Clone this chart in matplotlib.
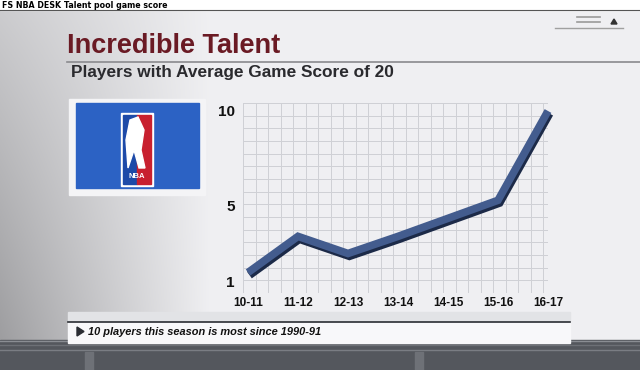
import numpy as np
import matplotlib
matplotlib.use('Agg')
import matplotlib.pyplot as plt
import matplotlib.transforms as mtransforms
from matplotlib.patches import Rectangle, Polygon

seasons = ['10-11', '11-12', '12-13', '13-14', '14-15', '15-16', '16-17']
players = [1.5, 3.4, 2.5, 3.4, 4.35, 5.3, 10]
ytick_values = [1, 5, 10]

header = 'FS NBA DESK Talent pool game score'
title = 'Incredible Talent'
subtitle = 'Players with Average Game Score of 20'
footnote = '10 players this season is most since 1990-91'

sans = ['Liberation Sans', 'DejaVu Sans']

W, H = 640, 370
fig = plt.figure(figsize=(6.4, 3.7), dpi=100)

# background layer in pixel coordinates
bg = fig.add_axes([0, 0, 1, 1])
bg.set_xlim(0, W)
bg.set_ylim(H, 0)
bg.axis('off')

xx, yy = np.meshgrid(np.arange(W), np.arange(H))
shade = 0.94 - 0.30 * np.clip((210 - xx) / 210, 0, 1) * (0.45 + 0.55 * yy / 300)
shade = np.clip(shade, 0, 1)
img = np.dstack([shade, shade, shade + 0.01])
bg.imshow(np.clip(img, 0, 1), extent=(0, W, H, 0), aspect='auto', zorder=0)

# header strip
bg.add_patch(Rectangle((0, 0), W, 10, color='white', zorder=1))
bg.plot([0, W], [10, 10], color='#555555', lw=0.8, zorder=2)
bg.text(2, 5, header, fontsize=5.7, fontweight='bold', color='black',
        family=['DejaVu Sans'], va='center', ha='left', zorder=3)

# top right decorations
bg.plot([577, 600], [17, 17], color='#9a9a9a', lw=1.2)
bg.plot([577, 600], [22, 22], color='#9a9a9a', lw=1.2)
bg.plot([555, 623], [28, 28], color='#a0a0a0', lw=1.0)
bg.add_patch(Polygon([[611, 24], [614, 19], [617, 24]], color='#333333'))

# title block
bg.text(67, 46, title, fontsize=19.5, fontweight='bold', color='#6a1a24',
        family=sans, va='center', ha='left')
bg.plot([67, W], [62, 62], color='#8a8a8e', lw=1.2)
bg.text(71, 72, subtitle, fontsize=12.4, fontweight='bold', color='#2a2a2e',
        family=sans, va='center', ha='left')

# NBA logo box
bg.add_patch(Rectangle((69, 99), 136, 96, color='#f4f4f6', zorder=2))
bg.add_patch(Rectangle((76, 103), 123, 85, color='#2c62c4', zorder=3))
bg.add_patch(Rectangle((121, 113), 32, 73, color='white', zorder=4))
bg.add_patch(Rectangle((123, 115), 14, 69, color='#1d4aa8', zorder=5))
bg.add_patch(Rectangle((137, 115), 14, 69, color='#c8202f', zorder=5))
bg.text(137, 176, 'NBA', fontsize=5.5, fontweight='bold', color='white',
        family=sans, ha='center', va='center', zorder=6)
bg.add_patch(Polygon([[130, 120], [138, 117], [144, 130], [141, 150], [145, 168],
                      [139, 168], [134, 150], [128, 168], [126, 140]],
                     color='white', zorder=6))

# bottom bars
bg.add_patch(Rectangle((0, 340), W, 30, color='#54575d', zorder=2))
for y0, c in [(341, '#8a8d93'), (345, '#6d7076'), (350, '#7a7d83')]:
    bg.plot([0, W], [y0, y0], color=c, lw=1.0, zorder=3)
bg.add_patch(Rectangle((85, 352), 8, 18, color='#6e7177', zorder=3))
bg.add_patch(Rectangle((415, 352), 8, 18, color='#6e7177', zorder=3))
bg.add_patch(Rectangle((68, 312), 502, 9, color='#e2e3e6', zorder=4))
bg.plot([68, 570], [321.5, 321.5], color='#2a2d33', lw=1.2, zorder=5)
bg.add_patch(Rectangle((68, 322), 502, 21, color='#f8f8fa', zorder=4))
bg.add_patch(Polygon([[77, 327], [77, 336], [84, 331.5]], color='#2a2d33', zorder=5))
bg.text(88, 332, footnote, fontsize=7.9, fontweight='bold', style='italic',
        color='#111111', family=sans, ha='left', va='center', zorder=5)

# chart axes
ax = fig.add_axes([243 / W, (H - 293) / H, 305 / W, 190 / H])
ax.patch.set_alpha(0)
ax.set_xlim(-0.1, 6.0)
ax.set_ylim(0.42, 10.42)
for s in ax.spines.values():
    s.set_visible(False)

for gx in np.arange(-0.1, 6.0, 0.25):
    ax.axvline(gx, color='#cfd0d5', lw=0.7, zorder=1)
for gy in np.arange(0.42, 10.5, 0.667):
    ax.axhline(gy, color='#cfd0d5', lw=0.7, zorder=1)

xs = np.arange(len(seasons))
shadow = mtransforms.offset_copy(ax.transData, fig=fig, x=1.0, y=-1.8, units='points')
ax.plot(xs, players, color='#1c2a48', lw=6.0, solid_joinstyle='miter',
        solid_capstyle='butt', transform=shadow, clip_on=False, zorder=3)
ax.plot(xs, players, color='#435c8e', lw=5.5, solid_joinstyle='miter',
        solid_capstyle='butt', clip_on=False, zorder=4)

ax.set_xticks(xs)
ax.set_xticklabels(seasons, fontsize=8.5, fontweight='bold', family=sans)
ax.set_yticks(ytick_values)
ax.set_yticklabels([str(v) for v in ytick_values], fontsize=11,
                   fontweight='bold', family=sans)
ax.tick_params(length=0, pad=3, colors='#111111')
ax.tick_params(axis='y', pad=6)

fig.savefig('out.png', dpi=100)
